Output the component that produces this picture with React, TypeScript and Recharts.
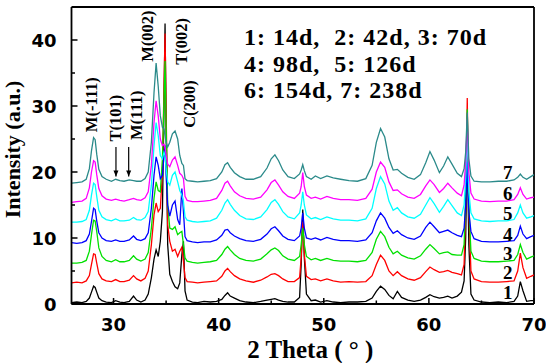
import React from 'react';
import { LineChart, Line, XAxis, YAxis, ReferenceLine, ReferenceDot } from 'recharts';

// 2θ sampling positions (degrees)
const twoTheta = [
  26.0, 26.5, 27.0, 27.4, 27.7, 27.9, 28.1, 28.25, 28.4, 28.6,
  28.9, 29.3, 29.8, 30.2, 30.6, 31.0, 31.5, 31.9, 32.2, 32.6,
  33.0, 33.3, 33.6, 33.85, 34.05, 34.25, 34.45, 34.65, 34.8, 34.9,
  35.0, 35.15, 35.35, 35.6, 35.85, 36.1, 36.3, 36.5, 36.65, 36.8,
  37.0, 37.5, 38.0, 38.6, 39.2, 39.8, 40.3, 40.6, 40.85, 41.1,
  41.5, 42.0, 42.6, 43.3, 44.0, 44.6, 45.0, 45.35, 45.7, 46.1,
  46.6, 47.2, 47.7, 47.85, 48.0, 48.15, 48.35, 48.8, 49.2, 49.7,
  50.3, 50.9, 51.6, 52.4, 53.2, 54.0, 54.6, 55.0, 55.4, 55.8,
  56.2, 56.6, 57.0, 57.4, 58.0, 58.6, 59.2, 59.7, 60.1, 60.5,
  61.0, 61.4, 61.8, 62.2, 62.7, 63.1, 63.35, 63.5, 63.65, 63.8,
  64.0, 64.3, 65.0, 65.8, 66.6, 67.4, 68.1, 68.45, 68.7, 68.95,
  69.3, 69.7, 70.0,
];

// 1: 14 d
const day14 = [
  0.2, 0.3, 0.2, 0.4, 0.9, 1.8, 2.7, 2.5, 1.8, 0.9,
  0.5, 0.3, 0.2, 0.5, 0.3, 0.2, 0.4, 1.2, 0.6, 0.3,
  0.6, 1.5, 4.0, 6.8, 8.2, 7.2, 9.5, 14, 30, 42.5,
  27, 9, 4.5, 3.4, 2.6, 2.3, 3.2, 7.5, 9.5, 2.0,
  0.6, 0.3, 0.2, 0.4, 0.3, 0.4, 0.7, 1.3, 1.7, 1.2,
  0.9, 0.5, 0.3, 0.2, 0.4, 0.6, 0.7, 0.8, 0.6, 0.4,
  0.3, 0.3, 1.0, 6, 14.3, 7, 1.5, 0.5, 0.6, 0.3,
  0.5, 0.3, 0.2, 0.3, 0.3, 0.4, 0.9, 1.9, 2.7, 2.2,
  1.3, 0.8, 1.9, 1.0, 0.6, 0.4, 0.6, 1.0, 1.4, 1.1,
  0.9, 1.0, 1.2, 0.9, 1.2, 1.8, 3.5, 10, 24, 9,
  1.5, 0.6, 0.3, 0.2, 0.3, 0.2, 0.4, 1.2, 3.4, 2.0,
  0.4, 0.5, 0.5,
];

// 2: 42 d
const day42 = [
  3.2, 3.3, 3.2, 3.5, 4.3, 6.0, 7.6, 7.5, 6.2, 4.6,
  3.8, 3.5, 3.4, 3.7, 3.4, 3.4, 3.6, 4.3, 3.8, 3.5,
  3.9, 5.0, 9.0, 13.5, 15.3, 14.0, 14.5, 20, 33, 41,
  30, 12, 9.5, 8.0, 8.3, 7.2, 8.0, 8.6, 6.5, 4.0,
  3.4, 3.3, 3.2, 3.3, 3.4, 3.5, 4.2, 5.0, 5.4, 4.9,
  4.3, 3.8, 3.5, 3.3, 3.6, 4.1, 4.5, 4.6, 4.3, 3.8,
  3.4, 3.4, 4.0, 7, 12.5, 7.5, 4.2, 3.7, 3.8, 3.5,
  3.8, 3.5, 3.3, 3.4, 3.3, 3.4, 4.3, 6.0, 7.4, 6.6,
  5.0, 4.3, 4.9, 4.3, 3.8, 3.6, 4.0, 4.9, 5.6, 5.2,
  4.8, 4.9, 5.1, 4.8, 4.6, 4.4, 6, 15, 31.2, 14,
  5, 3.8, 3.4, 3.3, 3.3, 3.4, 3.5, 5, 7.7, 5.5,
  3.9, 4.2, 4.4,
];

// 3: 70 d
const day70 = [
  6.2, 6.2, 6.3, 6.6, 8.0, 10.5, 12.7, 12.6, 11.0, 8.5,
  7.2, 6.6, 6.4, 6.7, 6.4, 6.4, 6.6, 7.3, 6.8, 6.5,
  6.8, 7.8, 11.5, 16, 18.5, 17.2, 17, 22, 31, 36.8,
  27, 15, 11.5, 11.3, 11.7, 10.5, 10.8, 11.0, 9.0, 7.0,
  6.5, 6.3, 6.2, 6.3, 6.4, 6.6, 7.5, 8.3, 8.7, 8.2,
  7.5, 6.9, 6.6, 6.5, 6.8, 7.6, 8.2, 8.5, 8.1, 7.3,
  6.8, 6.6, 7.2, 9, 11.5, 9, 7.2, 6.7, 6.9, 6.6,
  6.9, 6.6, 6.5, 6.5, 6.4, 6.6, 7.8, 9.8, 11.0, 10.2,
  8.6, 7.6, 8.0, 7.4, 7.0, 6.8, 7.3, 8.3, 9.0, 8.4,
  7.6, 7.8, 7.9, 7.5, 7.4, 7.4, 9, 16, 29.5, 15,
  8, 6.9, 6.5, 6.4, 6.4, 6.5, 6.6, 7.5, 9.0, 7.8,
  6.8, 7.1, 7.3,
];

// 4: 98 d
const day98 = [
  9.3, 9.2, 9.3, 9.6, 10.6, 12.5, 14.5, 14.3, 12.6, 10.8,
  10.0, 9.6, 9.5, 9.7, 9.5, 9.5, 9.7, 10.3, 9.8, 9.6,
  9.9, 10.8, 14.5, 19.5, 22.3, 21, 19, 19.5, 22.5, 24,
  19.5, 15.0, 13.3, 15.0, 15.6, 12.8, 12.0, 17.5, 14.0, 10.2,
  9.6, 9.4, 9.3, 9.4, 9.4, 9.7, 10.4, 11.2, 11.3, 10.8,
  10.3, 9.9, 9.6, 9.5, 9.8, 10.6, 11.4, 11.7, 11.1, 10.3,
  9.8, 9.6, 10.3, 11.5, 13.8, 11.5, 10.0, 9.8, 10.0, 9.7,
  10.1, 9.8, 9.6, 9.6, 9.5, 9.7, 10.8, 12.6, 13.8, 13.0,
  11.6, 10.7, 11.1, 10.5, 10.0, 9.8, 10.3, 11.6, 12.4, 11.7,
  10.8, 11.0, 11.2, 10.8, 10.4, 10.2, 11.5, 15, 21.5, 14,
  11, 9.9, 9.5, 9.4, 9.4, 9.5, 9.6, 10.4, 11.8, 10.6,
  9.9, 10.2, 10.4,
];

// 5: 126 d
const day126 = [
  12.4, 12.4, 12.5, 12.8, 14.2, 16.5, 18.3, 18.1, 16.3, 14.2,
  13.2, 12.8, 12.6, 12.9, 12.6, 12.6, 12.7, 13.1, 12.8, 12.7,
  13.1, 14.0, 18.0, 24.0, 27.5, 25.5, 22.5, 22.0, 23.0, 22.5,
  20.5, 18.5, 18.0, 19.5, 20.0, 18.5, 17.2, 16.5, 15.5, 13.2,
  12.7, 12.5, 12.4, 12.5, 12.6, 13.0, 14.2, 15.3, 15.8, 15.1,
  14.2, 13.4, 12.9, 12.8, 13.2, 14.3, 15.4, 15.8, 15.1, 14.0,
  13.2, 12.9, 13.8, 15.0, 17.0, 15.0, 13.5, 12.9, 13.1, 12.8,
  13.2, 12.9, 12.7, 12.7, 12.6, 12.9, 14.5, 17.5, 19.3, 18.2,
  15.6, 14.2, 14.6, 13.8, 13.2, 13.0, 13.6, 15.0, 16.1, 15.2,
  13.9, 14.8, 15.8, 14.9, 13.8, 13.4, 15, 19, 26, 17,
  13.8, 12.9, 12.6, 12.5, 12.6, 12.6, 12.8, 13.8, 15.0, 13.8,
  13.0, 13.2, 13.4,
];

// 6: 154 d
const day154 = [
  15.4, 15.5, 15.6, 16.0, 17.6, 20.0, 21.7, 21.5, 19.6, 17.5,
  16.4, 15.9, 15.7, 15.9, 15.7, 15.6, 15.8, 16.0, 15.8, 15.7,
  16.1, 17.0, 21.0, 27.5, 30.8, 28.5, 25.0, 24.0, 24.2, 23.8,
  22.6, 21.2, 20.8, 21.8, 22.3, 21.0, 19.8, 19.5, 19.0, 16.3,
  15.7, 15.5, 15.5, 15.6, 15.7, 16.0, 17.2, 18.3, 18.6, 17.9,
  17.0, 16.4, 16.0, 15.9, 16.2, 17.3, 18.4, 18.8, 18.0, 17.0,
  16.3, 16.0, 16.8, 17.8, 19.9, 17.8, 16.5, 16.0, 16.2, 15.9,
  16.3, 16.0, 15.8, 15.8, 15.7, 16.0, 17.4, 20.0, 21.5, 20.7,
  18.5, 17.2, 17.3, 16.7, 16.2, 16.0, 16.6, 17.9, 18.8, 18.1,
  16.9, 17.5, 18.3, 17.6, 16.8, 16.4, 18, 21.5, 28, 20,
  16.8, 15.9, 15.6, 15.5, 15.6, 15.6, 15.8, 16.6, 17.6, 16.6,
  15.9, 16.1, 16.2,
];

// 7: 238 d
const day238 = [
  18.3, 18.4, 18.5, 18.9, 20.5, 23.2, 25.2, 24.9, 22.7, 20.4,
  19.3, 18.9, 18.6, 18.9, 18.7, 18.6, 18.8, 18.7, 18.6, 18.6,
  19.0, 20.0, 24.5, 32.0, 36.5, 33.0, 28.5, 26.8, 26.5, 25.5,
  24.5, 23.8, 24.5, 25.8, 26.2, 25.0, 22.5, 21.3, 21.0, 19.0,
  18.7, 18.6, 18.5, 18.6, 18.7, 19.0, 20.0, 21.1, 21.4, 20.7,
  19.9, 19.3, 18.9, 18.9, 19.3, 20.6, 22.0, 22.6, 21.7, 20.3,
  19.3, 19.0, 19.7, 20.3, 21.1, 20.2, 19.3, 18.9, 19.4, 19.0,
  19.4, 19.1, 18.9, 18.7, 18.6, 19.0, 21.0, 24.5, 26.6, 25.3,
  22.0, 20.3, 20.4, 19.8, 19.2, 18.9, 19.6, 21.4, 23.1, 21.8,
  19.9, 20.9, 22.3, 21.2, 19.8, 19.3, 20.5, 23, 29, 22,
  19.4, 18.6, 18.5, 18.5, 18.6, 18.6, 18.8, 19.2, 19.7, 19.2,
  18.9, 19.3, 19.6,
];

const seriesValues = [day14, day42, day70, day98, day126, day154, day238];
const seriesColors = ['#000000', '#ff0000', '#00e000', '#0000ff', '#00ffff', '#ff00ff', '#2b8a8a'];

// curve numbers at the right end of each pattern
const curveTags = ['1', '2', '3', '4', '5', '6', '7'];
const curveTagX = 67.5;
const curveTagY = [1.7, 4.7, 7.6, 10.5, 13.7, 16.7, 19.9];

// reflection labels (vertical text)
const peakNames = ['M(-111)', 'T(101)', 'M(111)', 'M(002)', 'T(002)', 'C(200)'];
const peakLabelX = [27.86, 30.14, 32.23, 33.25, 36.51, 37.23];
const peakLabelY = [30.2, 28.15, 28.6, 40.6, 39.8, 30.3];

// arrows pointing to weak reflections
const arrowX = [30.23, 31.44];
const arrowTop = 23.8;
const arrowTip = 19.3;

const legendRows = ['1: 14d,  2: 42d, 3: 70d', '4: 98d,  5: 126d', '6: 154d, 7: 238d'];

const xTicks = [30, 35, 40, 45, 50, 55, 60, 65, 70];
const yTicks = [0, 5, 10, 15, 20, 25, 30, 35, 40];

const data = twoTheta.map((t, i) => {
  const row: Record<string, number> = { t };
  seriesValues.forEach((vals, k) => {
    row[`s${k + 1}`] = vals[i];
  });
  return row;
});

const serif = "'Liberation Serif', 'Times New Roman', serif";
const sans = "'DejaVu Sans', Arial, sans-serif";

const XTick = (props: any) => {
  const { x, y, payload } = props;
  const major = payload.value % 10 === 0;
  return (
    <g>
      <line x1={x} x2={x} y1={y} y2={y - (major ? 6 : 3.5)} stroke="#000" strokeWidth={1.5} />
      {major && (
        <text x={x} y={y + 27} textAnchor="middle" fontFamily={sans} fontWeight="bold" fontSize={18} fill="#000">
          {payload.value}
        </text>
      )}
    </g>
  );
};

const YTick = (props: any) => {
  const { x, y, payload } = props;
  const major = payload.value % 10 === 0;
  return (
    <g>
      <line x1={x} x2={x + (major ? 6 : 3.5)} y1={y} y2={y} stroke="#000" strokeWidth={1.5} />
      {major && (
        <text x={x - 15} y={y + 6.5} textAnchor="end" fontFamily={sans} fontWeight="bold" fontSize={18} fill="#000">
          {payload.value}
        </text>
      )}
    </g>
  );
};

const XTitle = (props: any) => {
  const vb = props.viewBox;
  return (
    <text x={vb.x + vb.width / 2 + 7.5} y={vb.y + 54} textAnchor="middle" fontFamily={serif} fontWeight="bold" fontSize={25} fill="#000" style={{ whiteSpace: 'pre' }}>
      {'2 Theta ( \u00b0 )'}
    </text>
  );
};

const YTitle = (props: any) => {
  const vb = props.viewBox;
  const cx = vb.x + 12;
  const cy = vb.y + vb.height / 2 - 6;
  return (
    <text x={cx} y={cy} transform={`rotate(-90 ${cx} ${cy})`} textAnchor="middle" dominantBaseline="central" fontFamily={serif} fontWeight="bold" fontSize={22} fill="#000">
      Intensity (a.u.)
    </text>
  );
};

const VerticalText = (text: string) => (props: any) => {
  const { cx, cy } = props;
  return (
    <text x={cx} y={cy} transform={`rotate(-90 ${cx} ${cy})`} textAnchor="middle" dominantBaseline="central" fontFamily={serif} fontWeight="bold" fontSize={16.5} fill="#000">
      {text}
    </text>
  );
};

const TagText = (text: string) => (props: any) => {
  const { cx, cy } = props;
  return (
    <text x={cx} y={cy} textAnchor="middle" dominantBaseline="central" fontFamily={serif} fontWeight="bold" fontSize={19} fill="#000">
      {text}
    </text>
  );
};

const ArrowHead = (props: any) => {
  const { cx, cy } = props;
  return <path d={`M${cx - 2.5},${cy - 6} L${cx + 2.5},${cy - 6} L${cx},${cy} Z`} fill="#000" />;
};

export default function App() {
  return (
    <div style={{ position: 'absolute', left: 0, top: 0, width: 546, height: 363, background: '#fff' }}>
      <LineChart width={546} height={363} data={data} margin={{ top: 7, right: 12, bottom: 0, left: 0 }}>
        <XAxis
          dataKey="t"
          type="number"
          domain={[26, 70]}
          ticks={xTicks}
          interval={0}
          tickSize={0}
          tickMargin={0}
          tickLine={false}
          axisLine={{ stroke: '#000', strokeWidth: 1.8 }}
          tick={(p: any) => <XTick {...p} />}
          height={59}
          allowDataOverflow
          label={<XTitle />}
        />
        <YAxis
          type="number"
          domain={[0, 45]}
          ticks={yTicks}
          interval={0}
          tickSize={0}
          tickMargin={0}
          tickLine={false}
          axisLine={{ stroke: '#000', strokeWidth: 1.8 }}
          tick={(p: any) => <YTick {...p} />}
          width={71.5}
          allowDataOverflow
          label={<YTitle />}
        />
        <ReferenceLine y={45} stroke="#000" strokeWidth={1.8} />
        <ReferenceLine x={70} stroke="#000" strokeWidth={1.8} />
        {seriesValues.map((_, k) => (
          <Line
            key={k}
            type="linear"
            dataKey={`s${k + 1}`}
            stroke={seriesColors[k]}
            strokeWidth={1.3}
            dot={false}
            activeDot={false}
            isAnimationActive={false}
          />
        ))}
        {peakNames.map((name, i) => (
          <ReferenceDot key={name} x={peakLabelX[i]} y={peakLabelY[i]} r={0} shape={VerticalText(name)} />
        ))}
        {arrowX.map((ax) => (
          <ReferenceLine
            key={`shaft-${ax}`}
            segment={[{ x: ax, y: arrowTop }, { x: ax, y: arrowTip }]}
            stroke="#000"
            strokeWidth={1.2}
          />
        ))}
        {arrowX.map((ax) => (
          <ReferenceDot key={`head-${ax}`} x={ax} y={arrowTip} r={0} shape={ArrowHead} />
        ))}
        {curveTags.map((tag, i) => (
          <ReferenceDot key={`tag-${tag}`} x={curveTagX} y={curveTagY[i]} r={0} shape={TagText(tag)} />
        ))}
      </LineChart>
      <svg width={546} height={363} style={{ position: 'absolute', left: 0, top: 0, pointerEvents: 'none' }}>
        {legendRows.map((row, i) => (
          <text key={row} x={244} y={45 + i * 26.5} fontFamily={serif} fontWeight="bold" fontSize={24} letterSpacing={1} fill="#000" style={{ whiteSpace: 'pre' }}>
            {row}
          </text>
        ))}
      </svg>
    </div>
  );
}
